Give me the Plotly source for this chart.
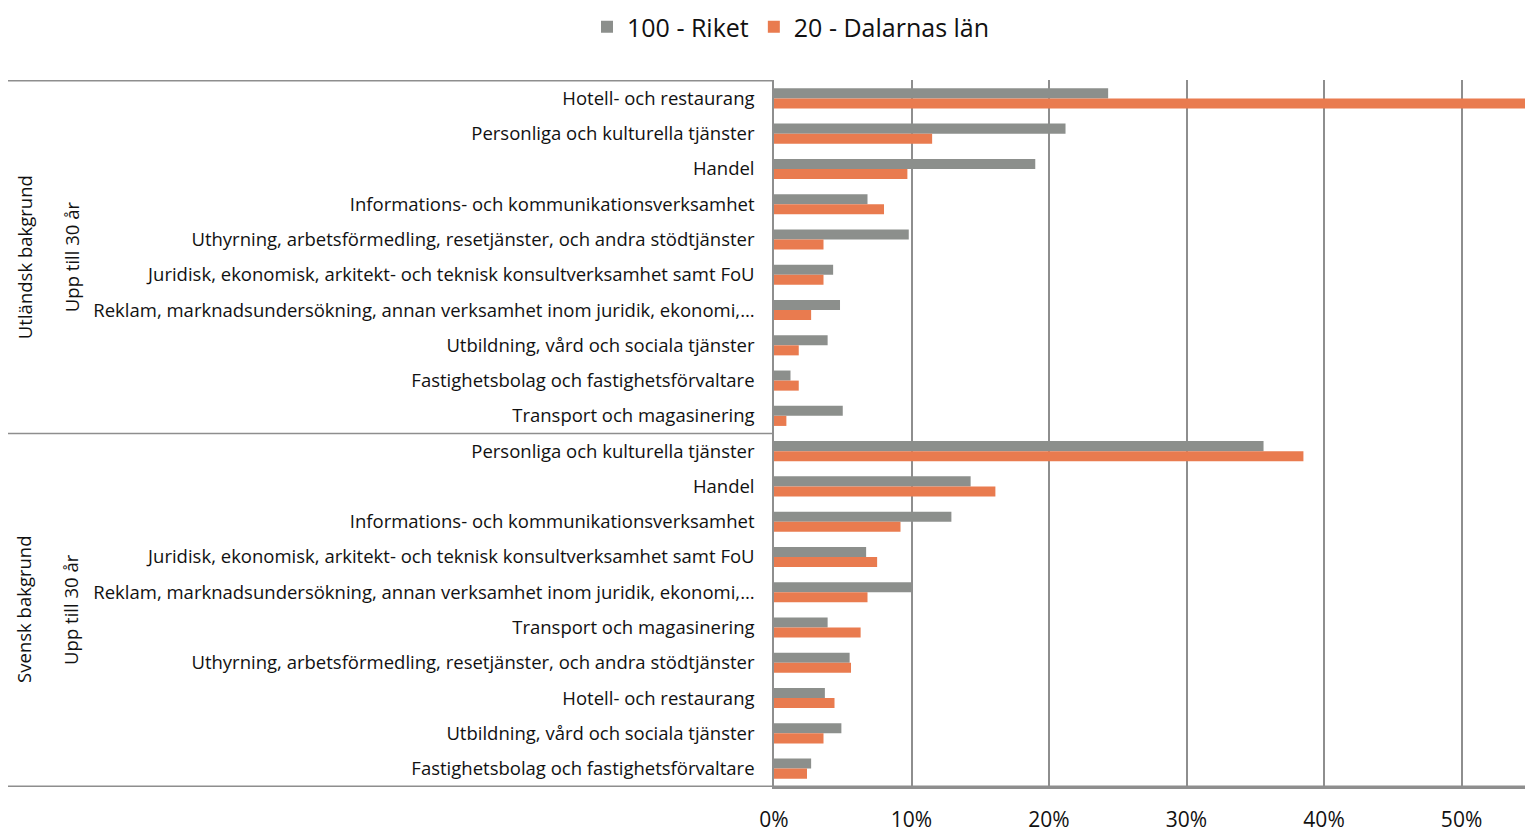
import plotly.graph_objects as go

categories_utl = [
    "Hotell- och restaurang",
    "Personliga och kulturella tjänster",
    "Handel",
    "Informations- och kommunikationsverksamhet",
    "Uthyrning, arbetsförmedling, resetjänster, och andra stödtjänster",
    "Juridisk, ekonomisk, arkitekt- och teknisk konsultverksamhet samt FoU",
    "Reklam, marknadsundersökning, annan verksamhet inom juridik, ekonomi,…",
    "Utbildning, vård och sociala tjänster",
    "Fastighetsbolag och fastighetsförvaltare",
    "Transport och magasinering",
]
riket_utl = [0.243, 0.212, 0.190, 0.068, 0.098, 0.043, 0.048, 0.039, 0.012, 0.050]
dalarna_utl = [0.560, 0.115, 0.097, 0.080, 0.036, 0.036, 0.027, 0.018, 0.018, 0.009]

categories_sv = [
    "Personliga och kulturella tjänster",
    "Handel",
    "Informations- och kommunikationsverksamhet",
    "Juridisk, ekonomisk, arkitekt- och teknisk konsultverksamhet samt FoU",
    "Reklam, marknadsundersökning, annan verksamhet inom juridik, ekonomi,…",
    "Transport och magasinering",
    "Uthyrning, arbetsförmedling, resetjänster, och andra stödtjänster",
    "Hotell- och restaurang",
    "Utbildning, vård och sociala tjänster",
    "Fastighetsbolag och fastighetsförvaltare",
]
riket_sv = [0.356, 0.143, 0.129, 0.067, 0.100, 0.039, 0.055, 0.037, 0.049, 0.027]
dalarna_sv = [0.385, 0.161, 0.092, 0.075, 0.068, 0.063, 0.056, 0.044, 0.036, 0.024]

group_labels = ["Utländsk bakgrund", "Svensk bakgrund"]
age_label = "Upp till 30 år"
series_names = ["100 - Riket", "20 - Dalarnas län"]
x_ticks = [0, 0.1, 0.2, 0.3, 0.4, 0.5]
x_ticktext = ["0%", "10%", "20%", "30%", "40%", "50%"]

GRAY = "#8C8F8C"
ORANGE = "#E97B4F"
LINE = "#8E8E8E"
TEXT = "#111111"
FONT = "Open Sans"

ids = [f"u{i}" for i in range(len(categories_utl))] + [f"s{i}" for i in range(len(categories_sv))]
labels = categories_utl + categories_sv
riket = riket_utl + riket_sv
dalarna = dalarna_utl + dalarna_sv

fig = go.Figure()
fig.add_trace(go.Bar(y=ids, x=riket, orientation="h", name=series_names[0],
                     marker=dict(color=GRAY, line=dict(width=0))))
fig.add_trace(go.Bar(y=ids, x=dalarna, orientation="h", name=series_names[1],
                     marker=dict(color=ORANGE, line=dict(width=0))))

# page has an 8px body margin; figure sized to fit the window
W, H = 1525, 826
L, R, T, B = 766, 2, 72, 47
pw = W - L - R
ph = H - T - B

def px_x(px):
    return (px - L) / pw

def px_y(py):
    return (H - B - py) / ph

fig.update_layout(
    width=W, height=H,
    margin=dict(l=L, r=R, t=T, b=B, autoexpand=False),
    paper_bgcolor="white", plot_bgcolor="white",
    barmode="group", bargap=0.43, bargroupgap=0,
    font=dict(family=FONT, color=TEXT),
    legend=dict(orientation="h", x=px_x(783), xanchor="center",
                y=px_y(19), yanchor="middle",
                font=dict(size=25, family=FONT, color=TEXT),
                traceorder="normal", itemwidth=30),
    xaxis=dict(range=[0, 0.5505], tickvals=x_ticks, ticktext=x_ticktext,
               showgrid=True, gridcolor=LINE, gridwidth=1.5,
               showline=True, linecolor=LINE, linewidth=1.5,
               zeroline=False, ticks="", ticklabelstandoff=13, automargin=False,
               tickfont=dict(size=21, family=FONT, color=TEXT)),
    yaxis=dict(type="category", categoryorder="array", categoryarray=ids,
               tickvals=ids, ticktext=labels, autorange="reversed",
               showline=True, linecolor=LINE, linewidth=1.5, automargin=False,
               showgrid=False, ticks="", ticklabelstandoff=14,
               tickfont=dict(size=18.5, family=FONT, color=TEXT)),
)

x_left = px_x(0)
shapes = []
for yv, x1 in [(-0.5, 0), (9.5, 0), (19.5, 1)]:
    shapes.append(dict(type="line", xref="paper", yref="y", x0=x_left, x1=x1,
                       y0=yv, y1=yv, line=dict(color=LINE, width=1.5)))
fig.update_layout(shapes=shapes)

annotations = []
for gi, g in enumerate(group_labels):
    yc = 4.5 + gi * 10
    annotations.append(dict(text=g, xref="paper", yref="y", x=px_x(16), y=yc,
                            textangle=-90, showarrow=False, xanchor="center", yanchor="middle",
                            font=dict(size=18.5, family=FONT, color=TEXT)))
    annotations.append(dict(text=age_label, xref="paper", yref="y", x=px_x(63), y=yc,
                            textangle=-90, showarrow=False, xanchor="center", yanchor="middle",
                            font=dict(size=18.5, family=FONT, color=TEXT)))
fig.update_layout(annotations=annotations)

fig.write_html("out.html")
